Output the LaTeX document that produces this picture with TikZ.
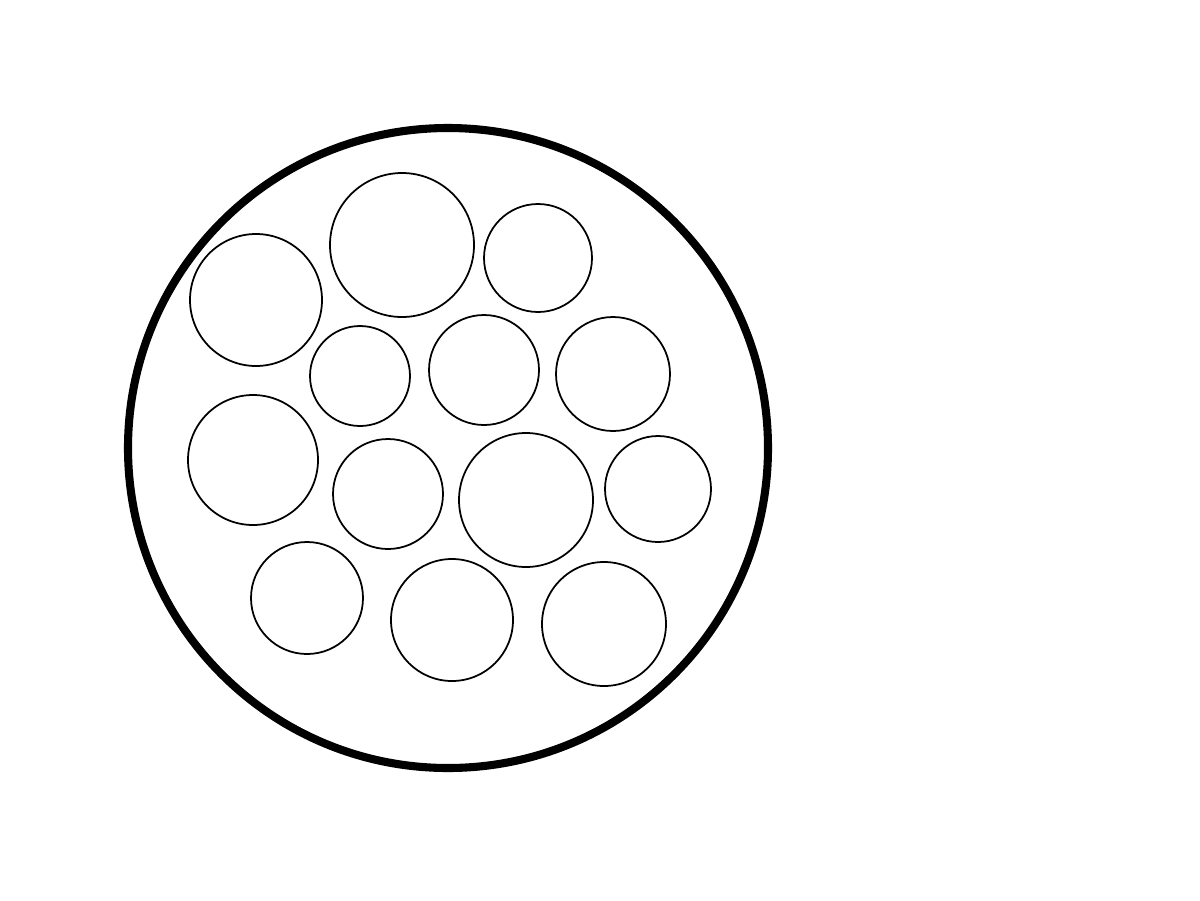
\documentclass[tikz,border=0pt]{standalone}
\usepackage{tikz}

\begin{document}
\begin{tikzpicture}[x=0.02cm, y=-0.02cm, outer/.style={draw, line width=4.6pt}, cell/.style={draw, line width=1pt}]
\useasboundingbox (0,0) rectangle (1200,900);
\coordinate (ctr) at (448,448);
\draw[outer] (ctr) circle (320);
% inner circles: x/y/radius
\foreach \x/\y/\r in {256/300/66, 402/245/72, 538/258/54,
                      360/376/50, 484/370/55, 613/374/57,
                      253/460/65, 388/494/55, 526/500/67, 658/489/53,
                      307/598/56, 452/620/61, 604/624/62}
  \draw[cell] (\x,\y) circle (\r);
\end{tikzpicture}
\end{document}
